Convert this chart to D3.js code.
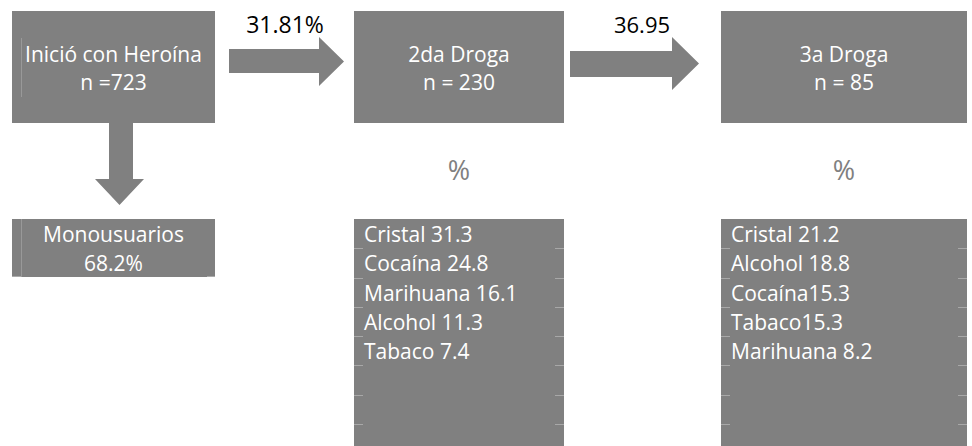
<!DOCTYPE html>
<html><head><meta charset="utf-8">
<script src="https://cdn.jsdelivr.net/npm/d3@7"></script>
<style>body{margin:0;background:#fff}svg{display:block}text{font-family:"Open Sans",sans-serif}</style>
</head><body><svg id="c" width="972" height="446"></svg>
<script>
const stageTitles = ["Inició con Heroína", "2da Droga", "3a Droga"];
const stageN = ["n =723", "n = 230", "n = 85"];
const transitionLabels = ["31.81%", "36.95"];
const monoLabel = ["Monousuarios", "68.2%"];
const drugs2 = ["Cristal", "Cocaína", "Marihuana", "Alcohol", "Tabaco"];
const values2 = ["31.3", "24.8", "16.1", "11.3", "7.4"];
const seps2 = [" ", " ", " ", " ", " "];
const drugs3 = ["Cristal", "Alcohol", "Cocaína", "Tabaco", "Marihuana"];
const values3 = ["21.2", "18.8", "15.3", "15.3", "8.2"];
const seps3 = [" ", " ", "", "", " "];

const svg = d3.select("#c");
const gray = "#808080";
const FS = 21;

// stage boxes
const boxes = [{x0:12,x1:215},{x0:354,x1:564},{x0:721,x1:967}];
const y = d3.scaleLinear().domain([0,1]).range([11,123]);
boxes.forEach((b,i)=>{
  svg.append("rect").attr("x",b.x0).attr("y",y(0)).attr("width",b.x1-b.x0).attr("height",y(1)-y(0)).attr("fill",gray);
  const cx=(b.x0+b.x1)/2;
  svg.append("text").attr("x",cx).attr("y",62).attr("text-anchor","middle").attr("fill","#fff").attr("font-size",FS).text(stageTitles[i]);
  svg.append("text").attr("x",cx).attr("y",90).attr("text-anchor","middle").attr("fill","#fff").attr("font-size",FS).text(stageN[i]);
});
svg.append("line").attr("x1",21.5).attr("x2",21.5).attr("y1",38).attr("y2",97).attr("stroke","#999").attr("stroke-width",1);

// right arrows
const arrows = [
  {x0:229,x1:344,hx:319,sy0:49,sy1:73,hy0:37,hy1:86,lx:285,fs:23},
  {x0:570,x1:699,hx:672,sy0:51,sy1:77,hy0:37,hy1:90,lx:642,fs:22}
];
arrows.forEach((a,i)=>{
  const my=(a.hy0+a.hy1)/2;
  const p=d3.path();
  p.moveTo(a.x0,a.sy0);p.lineTo(a.hx,a.sy0);p.lineTo(a.hx,a.hy0);p.lineTo(a.x1,my);
  p.lineTo(a.hx,a.hy1);p.lineTo(a.hx,a.sy1);p.lineTo(a.x0,a.sy1);p.closePath();
  svg.append("path").attr("d",p.toString()).attr("fill",gray);
  svg.append("text").attr("x",a.lx).attr("y",33).attr("text-anchor","middle").attr("fill","#000").attr("font-size",a.fs).text(transitionLabels[i]);
});

// down arrow
{
  const p=d3.path();
  p.moveTo(109,123);p.lineTo(133,123);p.lineTo(133,179);p.lineTo(144,179);p.lineTo(119.5,205);
  p.lineTo(95,179);p.lineTo(109,179);p.closePath();
  svg.append("path").attr("d",p.toString()).attr("fill",gray);
}

// percent signs
[1,2].forEach(i=>{
  const b=boxes[i];
  svg.append("text").attr("x",(b.x0+b.x1)/2).attr("y",180).attr("text-anchor","middle").attr("fill",gray).attr("font-size",27).text("%");
});

// monousuarios box
svg.append("rect").attr("x",12).attr("y",219).attr("width",203).attr("height",58).attr("fill",gray);
svg.append("line").attr("x1",21.5).attr("x2",21.5).attr("y1",219).attr("y2",277).attr("stroke","#999");
svg.append("line").attr("x1",12).attr("x2",21).attr("y1",276.5).attr("y2",276.5).attr("stroke","#aaa");
svg.append("line").attr("x1",207).attr("x2",215).attr("y1",276.5).attr("y2",276.5).attr("stroke","#aaa");
monoLabel.forEach((t,i)=>{
  svg.append("text").attr("x",113.5).attr("y",242+i*29).attr("text-anchor","middle").attr("fill","#fff").attr("font-size",FS).text(t);
});

// lists
const rows = d3.scaleLinear().domain([0,8]).range([219,453]);
function list(b, drugs, vals, seps){
  svg.append("rect").attr("x",b.x0).attr("y",219).attr("width",b.x1-b.x0).attr("height",240).attr("fill",gray);
  d3.range(1,8).forEach(k=>{
    const yy=Math.round(rows(k))+0.5;
    svg.append("line").attr("x1",b.x0).attr("x2",b.x0+9).attr("y1",yy).attr("y2",yy).attr("stroke","#a8a8a8");
    svg.append("line").attr("x1",b.x1-9).attr("x2",b.x1).attr("y1",yy).attr("y2",yy).attr("stroke","#a8a8a8");
  });
  drugs.forEach((d,i)=>{
    svg.append("text").attr("x",b.x0+10).attr("y",rows(i)+23).attr("fill","#fff").attr("font-size",FS).text(d+seps[i]+vals[i]);
  });
}
list(boxes[1], drugs2, values2, seps2);
list(boxes[2], drugs3, values3, seps3);
</script></body></html>
